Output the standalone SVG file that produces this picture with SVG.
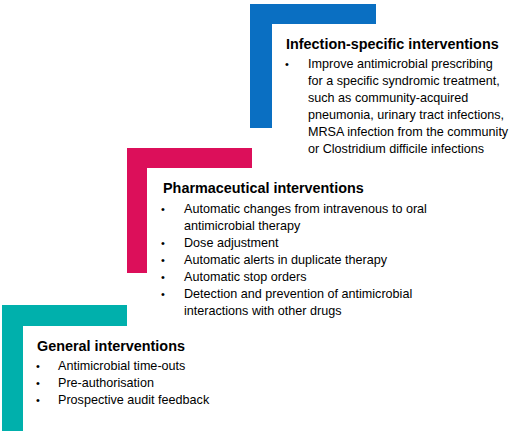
<svg xmlns="http://www.w3.org/2000/svg" width="512" height="434" viewBox="0 0 512 434">
<style>
.h{font-family:"Liberation Sans",Arial,sans-serif;font-weight:bold;font-size:14.4px;fill:#000}
.t{font-family:"Liberation Sans",Arial,sans-serif;font-size:12.6px;fill:#000}
.b{font-family:"Liberation Sans",Arial,sans-serif;font-size:11px;fill:#000}
</style>
<rect width="512" height="434" fill="#fff"/>
<g id="infection">
<path d="M250 4H376V24H272V128H250Z" fill="#0A6FC2"/>
<text class="h" x="286" y="49">Infection-specific interventions</text>
<text class="b" x="285" y="68">•</text>
<text class="t" x="308" y="68">Improve antimicrobial prescribing</text>
<text class="t" x="308" y="85">for a specific syndromic treatment,</text>
<text class="t" x="308" y="102">such as community-acquired</text>
<text class="t" x="308" y="119">pneumonia, urinary tract infections,</text>
<text class="t" x="308" y="136">MRSA infection from the community</text>
<text class="t" x="308" y="153">or Clostridium difficile infections</text>
</g>
<g id="pharmaceutical">
<path d="M127 148H252V168H147V273H127Z" fill="#DC0F5A"/>
<text class="h" x="163" y="193">Pharmaceutical interventions</text>
<text class="b" x="161" y="213">•</text>
<text class="t" x="184" y="213">Automatic changes from intravenous to oral</text>
<text class="t" x="184" y="230">antimicrobial therapy</text>
<text class="b" x="161" y="247">•</text>
<text class="t" x="184" y="247">Dose adjustment</text>
<text class="b" x="161" y="264">•</text>
<text class="t" x="184" y="264">Automatic alerts in duplicate therapy</text>
<text class="b" x="161" y="281">•</text>
<text class="t" x="184" y="281">Automatic stop orders</text>
<text class="b" x="161" y="298">•</text>
<text class="t" x="184" y="298">Detection and prevention of antimicrobial</text>
<text class="t" x="184" y="315">interactions with other drugs</text>
</g>
<g id="general">
<path d="M2 305H127V326H23V431H2Z" fill="#00B0AC"/>
<text class="h" x="37" y="351">General interventions</text>
<text class="b" x="36" y="370">•</text>
<text class="t" x="58" y="370">Antimicrobial time-outs</text>
<text class="b" x="36" y="387">•</text>
<text class="t" x="58" y="387">Pre-authorisation</text>
<text class="b" x="36" y="404">•</text>
<text class="t" x="58" y="404">Prospective audit feedback</text>
</g>
<g id="connectors"/>
</svg>
